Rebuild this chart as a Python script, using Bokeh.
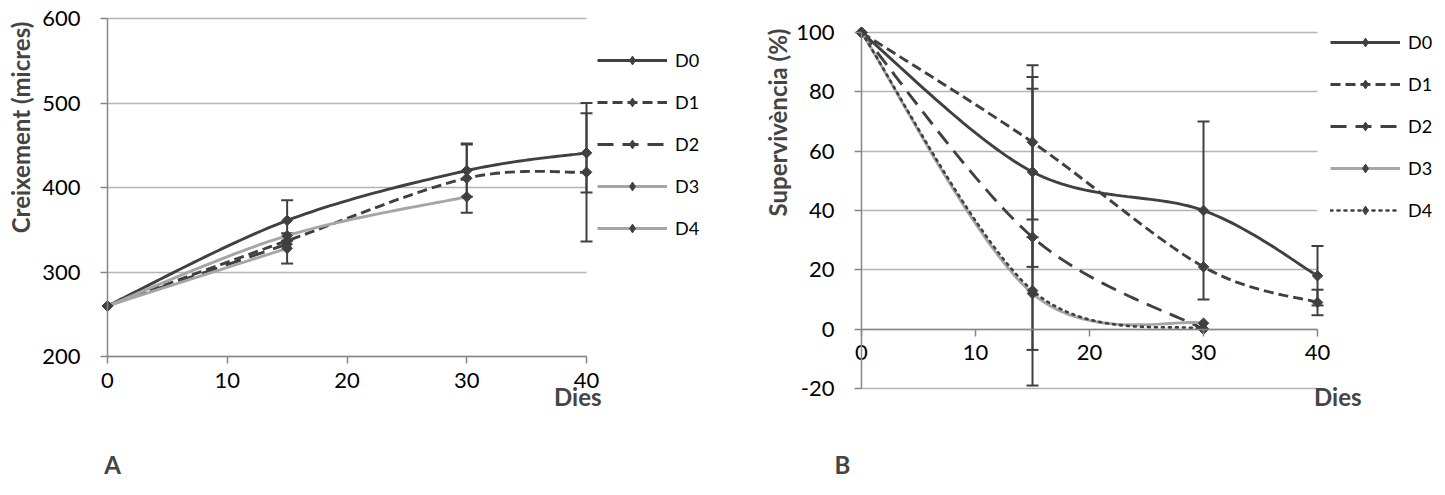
import numpy as np
from bokeh.plotting import figure
from bokeh.models import (Range1d, FixedTicker, Legend, LegendItem, Label,
                          Whisker, TeeHead, ColumnDataSource)
from bokeh.layouts import row
from bokeh.embed import file_html
from bokeh.resources import INLINE

# ---------------- data ----------------
days = [0, 15, 30, 40]
series_names = ["D0", "D1", "D2", "D3", "D4"]

# A: growth (micres)
growth_D0 = [260, 361, 420, 441]
growth_D1 = [260, 337, 411, 418]
growth_D2 = [260, 333]
growth_D3 = [260, 343, 389]
growth_D4 = [260, 328]
growth_err_D0 = [0, 24, 31, 47]
growth_err_D1 = [0, 0, 41, 82]
growth_err_D2 = [0, 0]
growth_err_D3 = [0, 0, 0]
growth_err_D4 = [0, 18]

# B: survival (%)
surv_D0 = [100, 53, 40, 18]
surv_D1 = [100, 63, 21, 9]
surv_D2 = [100, 31, 0]
surv_D3 = [100, 12, 2]
surv_D4 = [100, 13, 0]
surv_err_D0 = [0, 32, 30, 10]
surv_err_D1 = [0, 26, 0, 4.3]
surv_err_D2 = [0, 50, 0]
surv_err_D3 = [0, 19, 0]
surv_err_D4 = [0, 0, 0]

growth_ticks_y = [200, 300, 400, 500, 600]
surv_ticks_y = [-20, 0, 20, 40, 60, 80, 100]
ticks_x = [0, 10, 20, 30, 40]

# ---------------- style ----------------
DARK = "#404040"
GRAY = "#a6a6a6"
AXIS = "#868686"
GRID = "#b4b4b4"
FONT = "Lato"
H = 479

styleA = [(DARK, "solid"), (DARK, "10 5"), (DARK, "16 9"), (GRAY, "solid"), (GRAY, "solid")]
styleB = [(DARK, "solid"), (DARK, "10 5"), (DARK, "16 9"), (GRAY, "solid"), (DARK, "2 5")]


def smooth(xs, ys, n=30):
    P = np.column_stack([np.asarray(xs, float), np.asarray(ys, float)])
    if len(P) < 3:
        return P[:, 0], P[:, 1]
    out = [P[0]]
    t = np.linspace(0, 1, n + 1)[1:, None]
    for i in range(len(P) - 1):
        p0 = P[i - 1] if i > 0 else P[i]
        p1, p2 = P[i], P[i + 1]
        p3 = P[i + 2] if i + 2 < len(P) else P[i + 1]
        c1 = p1 + (p2 - p0) / 6.0
        c2 = p2 - (p3 - p1) / 6.0
        B = (1 - t) ** 3 * p1 + 3 * (1 - t) ** 2 * t * c1 + 3 * (1 - t) * t ** 2 * c2 + t ** 3 * p2
        out.extend(B)
    arr = np.array(out)
    return arr[:, 0], arr[:, 1]


class Frame:
    """Maps figure pixel positions to data so the frame can fill the figure."""
    def __init__(self, width, x0_px, x_ppu, ytop_val, ytop_px, y_ppu):
        self.width = width
        self.x0_px, self.x_ppu = x0_px, x_ppu
        self.ytop_val, self.ytop_px, self.y_ppu = ytop_val, ytop_px, y_ppu

    def dx(self, px):
        return (px - self.x0_px) / self.x_ppu

    def dy(self, py):
        return self.ytop_val - (py - self.ytop_px) / self.y_ppu

    def xr(self):
        return Range1d(self.dx(0), self.dx(self.width))

    def yr(self):
        return Range1d(self.dy(H), self.dy(0))


def make_fig(fr, yticks, x_axis_at):
    p = figure(width=fr.width, height=H, x_range=fr.xr(), y_range=fr.yr(),
               output_backend="svg", toolbar_location=None,
               min_border=0, min_border_left=0, min_border_right=0,
               min_border_top=0, min_border_bottom=0)
    p.outline_line_color = None
    p.background_fill_color = "white"
    p.border_fill_color = "white"
    p.xgrid.visible = False
    p.ygrid.ticker = FixedTicker(ticks=yticks)
    p.ygrid.grid_line_color = GRID
    p.ygrid.grid_line_width = 1.5
    p.ygrid.bounds = (yticks[0], yticks[-1])
    if "cross_bounds" in p.ygrid[0].properties():
        p.ygrid.cross_bounds = (ticks_x[0], ticks_x[-1])
    xa, ya = p.xaxis[0], p.yaxis[0]
    xa.ticker = FixedTicker(ticks=ticks_x)
    ya.ticker = FixedTicker(ticks=yticks)
    ya.major_label_overrides = {t: str(t) for t in yticks}
    xa.fixed_location = x_axis_at
    ya.fixed_location = ticks_x[0]
    xa.bounds = (ticks_x[0], ticks_x[-1])
    ya.bounds = (yticks[0], yticks[-1])
    for ax in (xa, ya):
        ax.axis_line_color = AXIS
        ax.axis_line_width = 1.5
        ax.major_tick_line_color = AXIS
        ax.major_tick_line_width = 1.5
        ax.major_tick_in = 0
        ax.major_tick_out = 7
        ax.minor_tick_line_color = None
        ax.major_label_text_font = FONT
        ax.major_label_text_font_size = "22px"
        ax.major_label_text_color = "black"
    xa.major_label_standoff = 9
    ya.major_label_standoff = 20
    return p


def add_series(p, xs, ys, errs, color, dash):
    sx, sy = smooth(xs, ys)
    idx = [i for i, e in enumerate(errs) if e > 0]
    if idx:
        src = ColumnDataSource(dict(
            x=[xs[i] for i in idx],
            lo=[ys[i] - errs[i] for i in idx],
            hi=[ys[i] + errs[i] for i in idx]))
        w = Whisker(source=src, base="x", lower="lo", upper="hi", dimension="height",
                    line_color=DARK, line_width=2,
                    upper_head=TeeHead(size=12, line_color=DARK, line_width=2),
                    lower_head=TeeHead(size=12, line_color=DARK, line_width=2))
        p.add_layout(w)
    kw = dict(line_color=color, line_width=2.9)
    if dash == "2 5":
        kw["line_cap"] = "round"
        kw["line_width"] = 2.6
    ln = p.line(sx, sy, line_dash=dash, **kw)
    p.scatter(xs, ys, marker="square", angle=np.pi / 4, size=7.5,
              fill_color=DARK, line_color=DARK)
    # marker used only for the legend swatch (no data point drawn)
    key = p.scatter(x=[np.nan], y=[np.nan], marker="diamond", size=15,
                    fill_color=DARK, line_color=DARK)
    return [ln, key]


def make_legend(p, items, left_px, first_center_px, step):
    n = len(items)
    item_h = 22
    spacing = int(round(step - item_h))
    lg_h = n * item_h + (n - 1) * spacing
    top_px = first_center_px - item_h / 2
    lg = Legend(items=items, location=(left_px, H - top_px - lg_h), orientation="vertical",
                glyph_width=70, glyph_height=item_h, label_height=item_h, spacing=spacing,
                label_standoff=8, padding=0, margin=0,
                label_text_font=FONT, label_text_font_size="18px",
                label_text_color="black",
                border_line_color=None, background_fill_alpha=0)
    p.add_layout(lg)


def add_text(p, fr, text, px, py, align="center", angle=0.0):
    p.add_layout(Label(x=fr.dx(px), y=fr.dy(py), text=text, text_font=FONT,
                       text_font_style="bold", text_font_size="24px",
                       text_align=align, text_baseline="middle", angle=angle))


# ---------------- chart A ----------------
frA = Frame(width=720, x0_px=107, x_ppu=479 / 40, ytop_val=600, ytop_px=18, y_ppu=338 / 400)
pA = make_fig(frA, growth_ticks_y, growth_ticks_y[0])

growth = [growth_D0, growth_D1, growth_D2, growth_D3, growth_D4]
growth_err = [growth_err_D0, growth_err_D1, growth_err_D2, growth_err_D3, growth_err_D4]
itemsA = []
for name, ys, er, (c, d) in zip(series_names, growth, growth_err, styleA):
    rs = add_series(pA, days[:len(ys)], ys, er, c, d)
    itemsA.append(LegendItem(label=name, renderers=rs))
make_legend(pA, itemsA, 597, 60, 42.5)

add_text(pA, frA, "Dies", 601, 396, align="right")
add_text(pA, frA, "A", 112, 464)
add_text(pA, frA, "Creixement (micres)", 20, 127, angle=np.pi / 2)

# ---------------- chart B ----------------
OFF = 720
frB = Frame(width=717, x0_px=861 - OFF, x_ppu=456 / 40, ytop_val=100, ytop_px=32, y_ppu=356 / 120)
pB = make_fig(frB, surv_ticks_y, 0)

surv = [surv_D0, surv_D1, surv_D2, surv_D3, surv_D4]
surv_err = [surv_err_D0, surv_err_D1, surv_err_D2, surv_err_D3, surv_err_D4]
itemsB = []
for name, ys, er, (c, d) in zip(series_names, surv, surv_err, styleB):
    rs = add_series(pB, days[:len(ys)], ys, er, c, d)
    itemsB.append(LegendItem(label=name, renderers=rs))
make_legend(pB, itemsB, 1330 - OFF, 42, 42)

add_text(pB, frB, "Dies", 1361 - OFF, 396, align="right")
add_text(pB, frB, "B", 842 - OFF, 464)
add_text(pB, frB, "Supervivència (%)", 777 - OFF, 122, angle=np.pi / 2)

layout = row(pA, pB)
open("out.html", "w").write(file_html(layout, INLINE))
